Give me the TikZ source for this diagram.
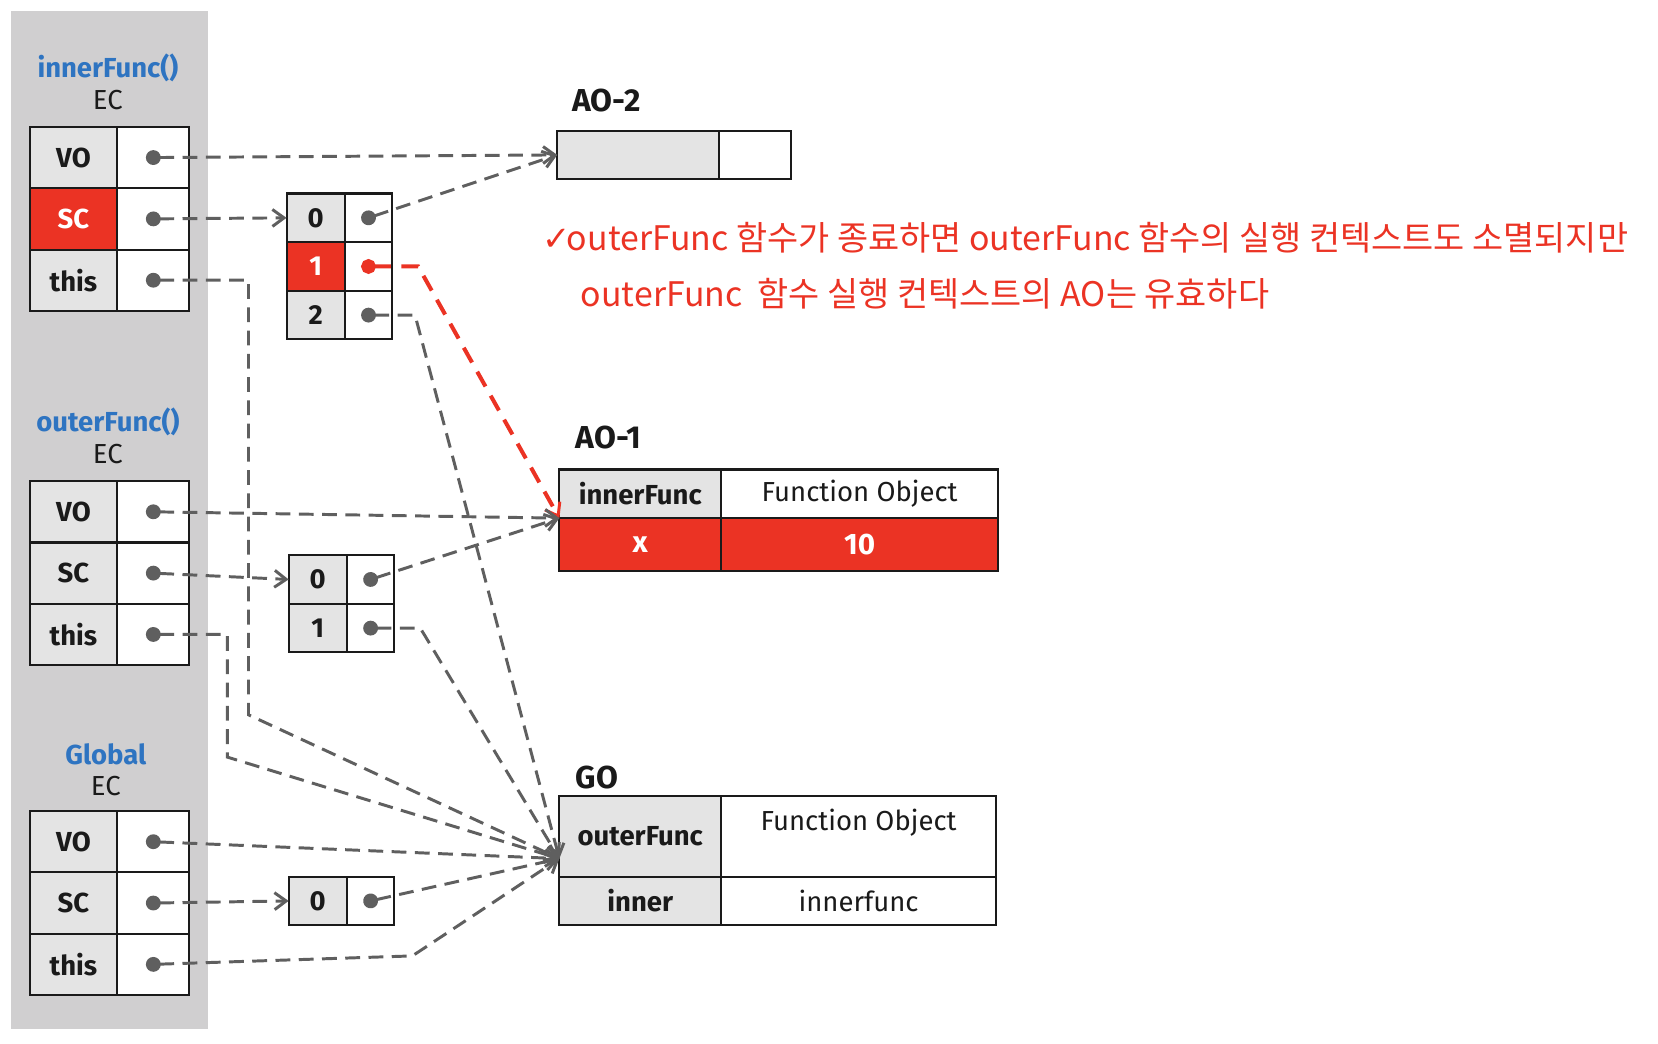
\documentclass[tikz,border=0pt]{standalone}
\usepackage{fontspec}
\setmainfont{Fira Sans}
\newfontfamily\krfont{Noto Sans CJK KR}
\newfontfamily\symfont{DejaVu Sans}
\usetikzlibrary{arrows.meta,positioning,calc}
\definecolor{ink}{HTML}{1A1A1A}
\definecolor{wire}{HTML}{5F5F5F}
\definecolor{hot}{HTML}{EB3324}
\definecolor{keyfill}{HTML}{E4E4E4}
\definecolor{panelfill}{HTML}{D0CFD0}
\definecolor{fnblue}{HTML}{2E74C1}
\tikzset{
  cell/.style={draw=ink,line width=1pt,inner sep=0pt,outer sep=0pt,font=\fontsize{13}{15}\selectfont,text=ink},
  key/.style={cell,fill=keyfill,font=\fontsize{13}{15}\selectfont\bfseries},
  keyhot/.style={key,fill=hot,text=white},
  val/.style={cell,fill=white},
  valhot/.style={cell,fill=hot,text=white,font=\fontsize{14}{16}\selectfont\bfseries},
  eck/.style={minimum width=41.5pt,minimum height=29pt},
  ecv/.style={minimum width=34pt,minimum height=29pt},
  ark/.style={minimum width=27.5pt,minimum height=23pt},
  arv/.style={minimum width=22.5pt,minimum height=23pt},
  fname/.style={font=\fontsize{13}{15}\selectfont\bfseries,text=fnblue,inner sep=0pt},
  ectxt/.style={font=\fontsize{13}{15}\selectfont,text=ink,inner sep=0pt},
  objname/.style={font=\fontsize{15}{17}\selectfont\bfseries,text=ink,inner sep=0pt,anchor=south west},
  note/.style={font=\krfont\fontsize{16}{19}\selectfont,text=hot,inner sep=0pt,anchor=west},
  ptr/.style={draw=wire,line width=1.4pt,dash pattern=on 7pt off 4pt,shorten <=-3.5pt,
    {Circle[length=7pt]}-{Straight Barb[length=5.5pt,width=8pt,line width=1.4pt]}},
  ptrhot/.style={ptr,draw=hot,line width=1.9pt,dash pattern=on 8pt off 5pt},
}
\begin{document}
\begin{tikzpicture}[x=0.5pt,y=-0.5pt]
  \useasboundingbox (0,0) rectangle (1568,987);
  \fill[panelfill] (10,10) rectangle (197,973);

  % innerFunc EC
  \node[fname] (itl) at (102,64) {innerFunc()};
  \node[ectxt] (iec) at (102,95) {EC};
  \node[key,eck,anchor=north west] (ivo) at (28,120) {VO};
  \node[val,ecv,right=0pt of ivo] (ivov) {};
  \node[keyhot,eck,below=0pt of ivo] (isc) {SC};
  \node[val,ecv,right=0pt of isc] (iscv) {};
  \node[key,eck,below=0pt of isc] (ith) {this};
  \node[val,ecv,right=0pt of ith] (ithv) {};

  \node[key,ark,anchor=north west] (ia0) at (271,183) {0};
  \node[val,arv,right=0pt of ia0] (ia0v) {};
  \node[keyhot,ark,below=0pt of ia0] (ia1) {1};
  \node[val,arv,right=0pt of ia1] (ia1v) {};
  \node[key,ark,below=0pt of ia1] (ia2) {2};
  \node[val,arv,right=0pt of ia2] (ia2v) {};

  % outerFunc EC
  \node[fname] (otl) at (102,399) {outerFunc()};
  \node[ectxt] (oec) at (102,429) {EC};
  \node[key,eck,anchor=north west] (ovo) at (28,455) {VO};
  \node[val,ecv,right=0pt of ovo] (ovov) {};
  \node[key,eck,below=0pt of ovo] (osc) {SC};
  \node[val,ecv,right=0pt of osc] (oscv) {};
  \node[key,eck,below=0pt of osc] (oth) {this};
  \node[val,ecv,right=0pt of oth] (othv) {};

  \node[key,ark,anchor=north west] (oa0) at (273,525) {0};
  \node[val,arv,right=0pt of oa0] (oa0v) {};
  \node[key,ark,below=0pt of oa0] (oa1) {1};
  \node[val,arv,right=0pt of oa1] (oa1v) {};

  % Global EC
  \node[fname] (gtl) at (100,713) {Global};
  \node[ectxt] (gec) at (100,743) {EC};
  \node[key,eck,anchor=north west] (gvo) at (28,767) {VO};
  \node[val,ecv,right=0pt of gvo] (gvov) {};
  \node[key,eck,below=0pt of gvo] (gsc) {SC};
  \node[val,ecv,right=0pt of gsc] (gscv) {};
  \node[key,eck,below=0pt of gsc] (gth) {this};
  \node[val,ecv,right=0pt of gth] (gthv) {};

  \node[key,ark,anchor=north west] (ga0) at (273,829) {0};
  \node[val,arv,right=0pt of ga0] (ga0v) {};

  % objects
  \node[key,minimum width=76.5pt,minimum height=22.5pt,anchor=north west] (ao2k) at (527,124) {};
  \node[val,minimum width=34pt,minimum height=22.5pt,right=0pt of ao2k] (ao2v) {};
  \node[objname] (ao2n) at ([xshift=7pt,yshift=9pt]ao2k.north west) {AO-2};

  \node[key,minimum width=76.5pt,minimum height=23pt,anchor=north west] (ao1k) at (529,444) {innerFunc};
  \node[val,minimum width=131pt,minimum height=23pt,right=0pt of ao1k] (ao1v) {Function Object};
  \node[valhot,minimum width=76.5pt,minimum height=25pt,below=0pt of ao1k] (ao1x) {x};
  \node[valhot,minimum width=131pt,minimum height=25pt,right=0pt of ao1x] (ao1xv) {10};
  \node[objname] (ao1n) at ([xshift=7.5pt,yshift=9.5pt]ao1k.north west) {AO-1};

  \node[key,minimum width=76.5pt,minimum height=38pt,anchor=north west] (gok) at (529,753) {outerFunc};
  \node[val,minimum width=130pt,minimum height=38pt,right=0pt of gok] (gov) {};
  \node[ectxt,below=6pt of gov.north] (govt) {Function Object};
  \node[key,minimum width=76.5pt,minimum height=23pt,below=0pt of gok] (gin) {inner};
  \node[val,minimum width=130pt,minimum height=23pt,right=0pt of gin] (ginv) {innerfunc};
  \node[objname] (gon) at ([xshift=7.5pt,yshift=3pt]gok.north west) {GO};
  \coordinate (goin) at ([yshift=-10.5pt]gok.west);

  % note
  \node[note] (note1) at (513,225) {{\symfont ✓}\kern-2pt outerFunc 함수가 종료하면 outerFunc 함수의 실행 컨텍스트도 소멸되지만};
  \node[note] (note2) at (549,278) {outerFunc\ \ 함수 실행 컨텍스트의 AO는 유효하다};

  % pointers
  \draw[ptr] (ivov.center) -- (ao2k.west);
  \draw[ptr] (iscv.center) -- (ia0.west);
  \draw[ptr] (ithv.center) -- ++(90,0) -- ++(0,411) -- (goin);
  \draw[ptr] (ia0v.center) -- (ao2k.west);
  \draw[ptrhot] (ia1v.center) -- ++(47,0) -- (ao1x.north west);
  \draw[ptr] (ia2v.center) -- ++(44,0) -- (goin);

  \draw[ptr] (ovov.center) -- (ao1x.north west);
  \draw[ptr] (oscv.center) -- (oa0.west);
  \draw[ptr] (othv.center) -- ++(70,0) -- ++(0,116) -- (goin);
  \draw[ptr] (oa0v.center) -- (ao1x.north west);
  \draw[ptr] (oa1v.center) -- ++(47,0) -- (goin);

  \draw[ptr] (gvov.center) -- (goin);
  \draw[ptr] (gscv.center) -- (ga0.west);
  \draw[ptr] (gthv.center) -- ++(245,-8) -- (goin);
  \draw[ptr] (ga0v.center) -- (goin);
\end{tikzpicture}
\end{document}
